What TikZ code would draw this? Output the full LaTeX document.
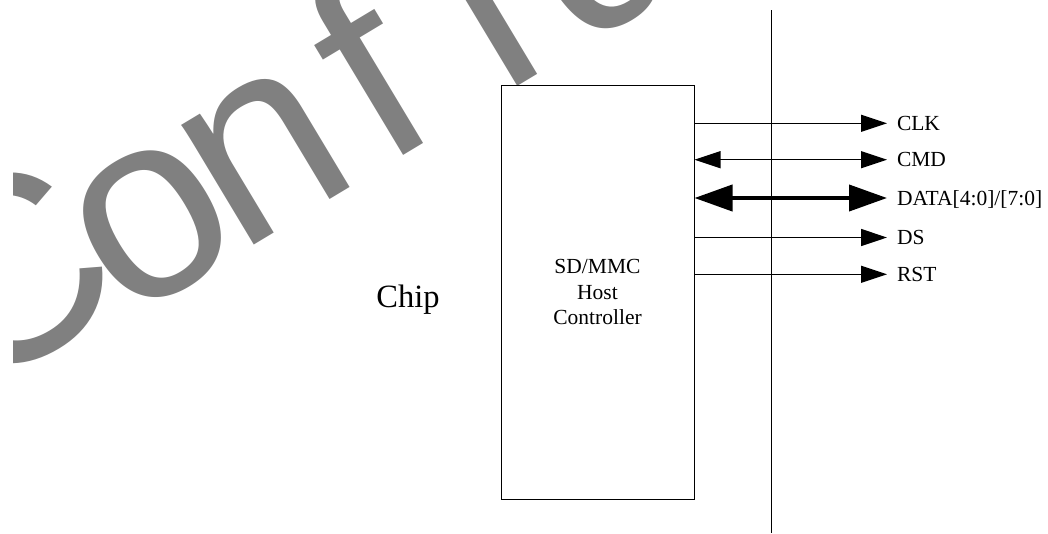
\documentclass[tikz,border=0pt]{standalone}
\usepackage{fontspec}
\setmainfont{Liberation Serif}
\newfontfamily\wmfont{Liberation Sans}
\usetikzlibrary{
    arrows.meta,
    positioning
}
\definecolor{wmgray}{RGB}{128,128,128}
\tikzset{
    % --- Host controller block ---
    host block/.style = {
        rectangle, draw, line width=1pt,
        minimum width=193pt, minimum height=414pt,
        font=\fontsize{21.5}{25.5}\selectfont, align=center
    },
    % --- Signal name at the right ---
    sig label/.style = {
        anchor=west, inner sep=0pt, outer xsep=10pt,
        text height=14.2pt, text depth=0pt,
        font=\fontsize{21.5}{25.5}\selectfont
    },
    % --- Chip label ---
    chip label/.style = {
        font=\fontsize{32.5}{36}\selectfont
    },
    % --- Thin signal wire ---
    sig wire/.style = {
        line width=1.3pt
    },
    % --- Wide data bus ---
    bus wire/.style = {
        line width=4pt
    },
    % --- Watermark letter ---
    wmark/.style = {
        anchor=base, inner sep=0pt, rotate=31, text=wmgray,
        font=\wmfont\fontsize{265}{265}\selectfont
    }
}

\begin{document}
\begin{tikzpicture}[x=1pt, y=-1pt]

\useasboundingbox (0,0) rectangle (1048,533);

% ---------------------------------------------------------
% Watermark
% ---------------------------------------------------------
\begin{scope}
    \clip (13,0) rectangle (1048,533);
    \node[wmark] (wmC) at (53, 350) {C};
    \foreach \ch [count=\k from 1] in {o,n,f,i,d} {
        \node[wmark] (wm\k) at ({75.6+113.1*\k}, {352.3-68*\k}) {\ch};
    }
\end{scope}

% ---------------------------------------------------------
% Host controller and chip boundary
% ---------------------------------------------------------
\node[host block] (Host) at (597.5, 292) {SD/MMC\\Host\\Controller};
\node[chip label] (Chip) at (408, 300) {Chip};

\coordinate (EdgeTop) at (771, 10);
\coordinate (EdgeBot) at (771, 533);
\draw[line width=1pt] (EdgeTop) -- (EdgeBot);

% ---------------------------------------------------------
% Signals
% ---------------------------------------------------------
\node[sig label] (Clk)  at (887, 123.3) {CLK};
\node[sig label] (Cmd)  at (887, 159.7) {CMD};
\node[sig label] (Data) at (887, 198)   {DATA[4:0]/[7:0]};
\node[sig label] (Ds)   at (887, 237.5) {DS};
\node[sig label] (Rst)  at (887, 274.3) {RST};

\draw[sig wire, -{Triangle[length=26pt, width=17pt]}]
    (Host.east |- Clk.west) -- (Clk.west);
\draw[sig wire, {Triangle[length=26pt, width=17pt]}-{Triangle[length=26pt, width=17pt]}]
    (Host.east |- Cmd.west) -- (Cmd.west);
\draw[bus wire, {Triangle[length=38pt, width=26pt]}-{Triangle[length=38pt, width=26pt]}]
    (Host.east |- Data.west) -- (Data.west);
\draw[sig wire, -{Triangle[length=26pt, width=17pt]}]
    (Host.east |- Ds.west) -- (Ds.west);
\draw[sig wire, -{Triangle[length=26pt, width=17pt]}]
    (Host.east |- Rst.west) -- (Rst.west);

\end{tikzpicture}
\end{document}
